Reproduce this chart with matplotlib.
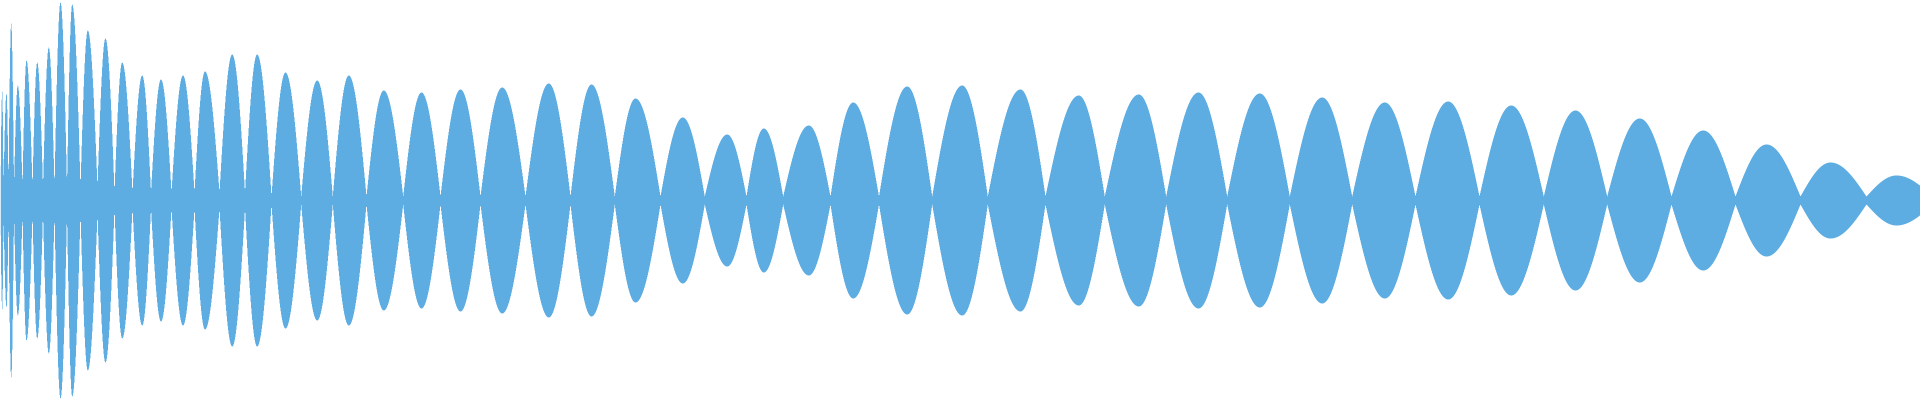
import numpy as np
import matplotlib
matplotlib.use("Agg")
import matplotlib.pyplot as plt

# -----------------------------
# Waveform data (x in samples, amplitude as fraction of full scale)
# -----------------------------
# zero-crossing positions between lobes
crossings = [0, 3, 8, 13.5, 22, 32, 42.5, 54, 66.5, 80, 97, 114, 132, 150.5,
             171, 194, 219, 244.5, 271, 300.7, 332.3, 366, 402.7, 440, 480,
             525, 570, 614.3, 660, 704.3, 746, 782.7, 830, 878.5, 931.7,
             987.3, 1045, 1104.3, 1165.7, 1226.7, 1289.3, 1351.7, 1415, 1479,
             1543.3, 1606.7, 1671, 1735, 1800, 1866, 1932]

# position of each lobe's peak
peak_pos = [1.7, 6, 10.7, 17.3, 26, 36.7, 48.3, 60, 71.7, 87.3, 105, 121.7,
            141.7, 160.5, 182.5, 204.5, 231.7, 256.7, 285, 316.7, 348.3,
            383.3, 421, 460, 501.7, 548.3, 591, 635, 682.3, 726.7, 763.3,
            808.3, 852.7, 906.7, 961.7, 1020, 1078.3, 1138.3, 1198, 1259.3,
            1321.7, 1384.3, 1447.7, 1510.7, 1575, 1639.3, 1702.7, 1766, 1830,
            1896]

# peak amplitude of each lobe
peaks = [0.545, 0.535, 0.885, 0.575, 0.70, 0.69, 0.765, 0.99, 0.98, 0.85,
         0.81, 0.69, 0.625, 0.605, 0.625, 0.645, 0.73, 0.73, 0.64, 0.60,
         0.625, 0.55, 0.54, 0.555, 0.565, 0.585, 0.58, 0.51, 0.415, 0.33,
         0.36, 0.375, 0.49, 0.57, 0.575, 0.555, 0.525, 0.53, 0.54, 0.535,
         0.515, 0.49, 0.495, 0.475, 0.45, 0.41, 0.35, 0.28, 0.19, 0.125]

# residual amplitude at each crossing
troughs = [0.065, 0.065, 0.065, 0.065, 0.065, 0.065, 0.065, 0.065, 0.065,
           0.065, 0.065, 0.04, 0.04, 0.04, 0.04, 0.04, 0.04, 0.04, 0.02,
           0.02, 0.02, 0.02, 0.02, 0.02, 0.02, 0.02, 0.02, 0.02, 0.02, 0.02,
           0.02, 0.02, 0.02, 0.02, 0.02, 0.02, 0.02, 0.02, 0.02, 0.02, 0.02,
           0.02, 0.02, 0.02, 0.02, 0.02, 0.02, 0.02, 0.02, 0.02, 0.02]

n_samples = 1920
color = "#5dade2"


def build_envelope(x, edges, tops_x, tops, lows):
    env = np.zeros_like(x)
    for i in range(len(tops)):
        a, b, p = edges[i], edges[i + 1], tops_x[i]
        m = (x >= a) & (x < b)
        xs = x[m]
        t = (xs - a) / (b - a)
        base = lows[i] + (lows[i + 1] - lows[i]) * t
        base_p = lows[i] + (lows[i + 1] - lows[i]) * (p - a) / (b - a)
        # rising quarter-sine up to the peak, falling quarter-sine after it
        shape = np.where(xs < p,
                         np.sin(0.5 * np.pi * (xs - a) / (p - a)),
                         np.cos(0.5 * np.pi * (xs - p) / (b - p)))
        env[m] = base + (tops[i] - base_p) * shape
    return env


x = np.arange(0, n_samples, 0.5) + 0.25
env = build_envelope(x, crossings, peak_pos, peaks, troughs)

fig = plt.figure(figsize=(19.2, 4), dpi=100)
ax = fig.add_axes([0, 0, 1, 1])
ax.fill_between(x, -env, env, step="mid", color=color, linewidth=0,
                antialiased=False)
ax.set_xlim(0, n_samples)
ax.set_ylim(-1, 1)
ax.axis("off")

fig.savefig("out.png", dpi=100, facecolor="white")
plt.close(fig)
